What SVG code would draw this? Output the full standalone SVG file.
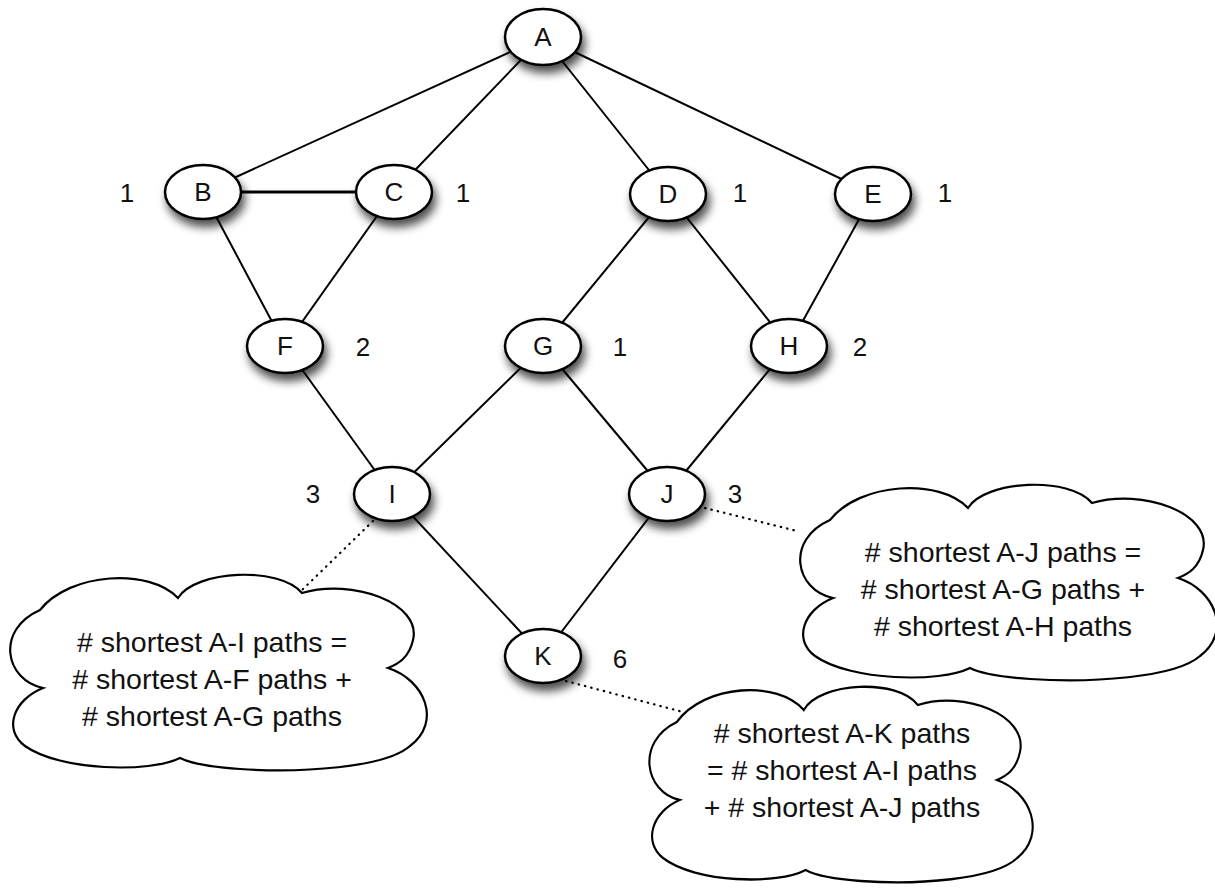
<svg xmlns="http://www.w3.org/2000/svg" width="1215" height="888" viewBox="0 0 1215 888">
<style>
.edge{stroke:#000;stroke-width:2;fill:none}
.thick{stroke-width:3}
.dot{stroke:#000;stroke-width:2.2;stroke-dasharray:0.5 6;stroke-linecap:round;fill:none}
.node ellipse{fill:#fff;stroke:#000;stroke-width:2.5;filter:url(#sh)}
.lbl{font-family:"Liberation Sans",Arial,sans-serif;font-size:26px;text-anchor:middle;fill:#111}
.ct{font-family:"Liberation Sans",Arial,sans-serif;font-size:28.5px;text-anchor:middle;fill:#111}
</style>
<defs>
<filter id="sh" x="-40%" y="-40%" width="180%" height="200%">
<feGaussianBlur in="SourceAlpha" stdDeviation="5"/>
<feOffset dx="3" dy="7" result="b"/>
<feComponentTransfer><feFuncA type="linear" slope="0.7"/></feComponentTransfer>
<feMerge><feMergeNode/><feMergeNode in="SourceGraphic"/></feMerge>
</filter>
<path id="cloudShape" d="M43,688 C5,680 -5,630 40,610 C70,572 150,568 178,598 C195,570 280,566 302,593 C352,578 422,603 413,640 C409,658 398,664 388,668 C425,680 442,722 410,746 C385,768 300,773 240,769 C210,767 190,763 180,758 C150,773 60,771 25,746 C3,730 13,700 43,688 Z"/>
</defs>
<rect width="1215" height="888" fill="#fff"/>
<g id="connectors">
<line class="edge" x1="543" y1="37" x2="203" y2="192"/>
<line class="edge" x1="543" y1="37" x2="394" y2="192"/>
<line class="edge" x1="543" y1="37" x2="668" y2="194"/>
<line class="edge" x1="543" y1="37" x2="873" y2="194"/>
<line class="edge thick" x1="203" y1="192" x2="394" y2="192"/>
<line class="edge" x1="203" y1="192" x2="285" y2="346"/>
<line class="edge" x1="394" y1="192" x2="285" y2="346"/>
<line class="edge" x1="668" y1="194" x2="543" y2="346"/>
<line class="edge" x1="668" y1="194" x2="789" y2="346"/>
<line class="edge" x1="873" y1="194" x2="789" y2="346"/>
<line class="edge" x1="285" y1="346" x2="392" y2="494"/>
<line class="edge" x1="543" y1="346" x2="392" y2="494"/>
<line class="edge" x1="543" y1="346" x2="667" y2="494"/>
<line class="edge" x1="789" y1="346" x2="667" y2="494"/>
<line class="edge" x1="392" y1="494" x2="543" y2="656"/>
<line class="edge" x1="667" y1="494" x2="543" y2="656"/>
<line class="dot" x1="373" y1="521" x2="300" y2="592"/>
<line class="dot" x1="705" y1="508" x2="797" y2="531"/>
<line class="dot" x1="566" y1="681" x2="683" y2="712"/>
</g>
<g id="node-A" class="node"><ellipse cx="543" cy="37" rx="38" ry="28"/><text class="lbl" x="543" y="46">A</text></g>
<g id="node-B" class="node"><ellipse cx="203" cy="192" rx="38" ry="27"/><text class="lbl" x="203" y="201">B</text></g>
<g id="node-C" class="node"><ellipse cx="394" cy="192" rx="38" ry="27"/><text class="lbl" x="394" y="201">C</text></g>
<g id="node-D" class="node"><ellipse cx="668" cy="194" rx="38" ry="27"/><text class="lbl" x="668" y="203">D</text></g>
<g id="node-E" class="node"><ellipse cx="873" cy="194" rx="38" ry="27"/><text class="lbl" x="873" y="203">E</text></g>
<g id="node-F" class="node"><ellipse cx="285" cy="346" rx="38" ry="27"/><text class="lbl" x="285" y="355">F</text></g>
<g id="node-G" class="node"><ellipse cx="543" cy="346" rx="38" ry="27"/><text class="lbl" x="543" y="355">G</text></g>
<g id="node-H" class="node"><ellipse cx="789" cy="346" rx="38" ry="27"/><text class="lbl" x="789" y="355">H</text></g>
<g id="node-I" class="node"><ellipse cx="392" cy="494" rx="38" ry="27"/><text class="lbl" x="392" y="503">I</text></g>
<g id="node-J" class="node"><ellipse cx="667" cy="494" rx="38" ry="27"/><text class="lbl" x="667" y="503">J</text></g>
<g id="node-K" class="node"><ellipse cx="543" cy="656" rx="38" ry="27"/><text class="lbl" x="543" y="665">K</text></g>
<g id="counts">
<text class="lbl" x="127" y="202">1</text>
<text class="lbl" x="463" y="202">1</text>
<text class="lbl" x="740" y="202">1</text>
<text class="lbl" x="945" y="202">1</text>
<text class="lbl" x="363" y="356">2</text>
<text class="lbl" x="620" y="356">1</text>
<text class="lbl" x="860" y="356">2</text>
<text class="lbl" x="313" y="503">3</text>
<text class="lbl" x="735" y="503">3</text>
<text class="lbl" x="620" y="668">6</text>
</g>
<g id="cloud-I">
<use href="#cloudShape" style="fill:#fff;stroke:#000;stroke-width:2.2"/>
<text class="ct" x="212" y="652"># shortest A-I paths =</text>
<text class="ct" x="212" y="689"># shortest A-F paths +</text>
<text class="ct" x="212" y="726"># shortest A-G paths</text>
</g>
<g id="cloud-J">
<use href="#cloudShape" transform="translate(790,-90)" style="fill:#fff;stroke:#000;stroke-width:2.2"/>
<text class="ct" x="1003" y="562"># shortest A-J paths =</text>
<text class="ct" x="1003" y="599"># shortest A-G paths +</text>
<text class="ct" x="1003" y="636"># shortest A-H paths</text>
</g>
<g id="cloud-K">
<use href="#cloudShape" transform="translate(640,112) scale(0.92,1)" style="fill:#fff;stroke:#000;stroke-width:2.3"/>
<text class="ct" x="842" y="743"># shortest A-K paths</text>
<text class="ct" x="842" y="780">= # shortest A-I paths</text>
<text class="ct" x="842" y="817">+ # shortest A-J paths</text>
</g>
</svg>
